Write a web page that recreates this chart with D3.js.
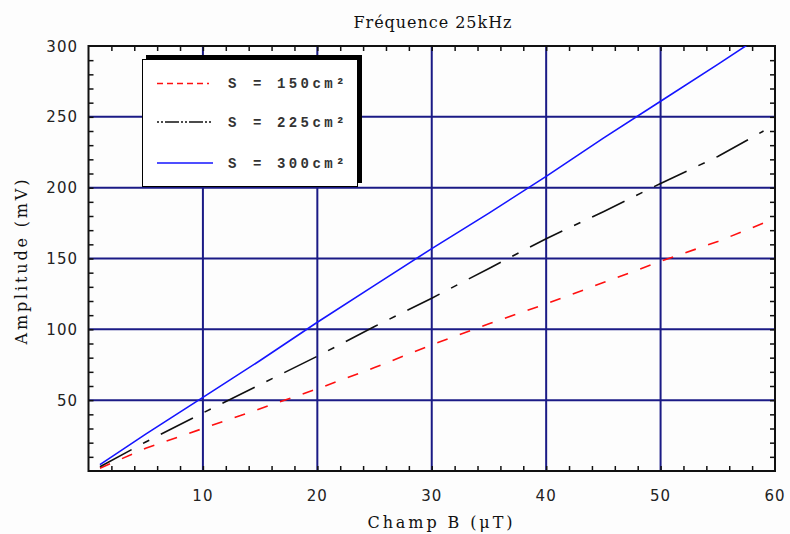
<!DOCTYPE html>
<html><head><meta charset="utf-8">
<script src="https://cdn.jsdelivr.net/npm/d3@7"></script>
<style>
html,body{margin:0;padding:0;background:#fdfdfd;}
svg{display:block;}
</style></head>
<body>
<svg id="chart" width="790" height="534"></svg>
<script>
// ---- data ----
const xValues   = [1, 5, 10, 15, 20, 25, 30, 35, 40, 45, 50, 55, 59];
const s150      = [2, 16, 30, 44, 58, 73, 89, 104, 118, 133, 148, 162, 175];
const s225      = [3, 20.5, 41, 61, 81, 102, 122, 143, 164, 183, 203, 222, 240];
const xValuesS300 = [1, 5, 10, 15, 20, 25, 30, 35, 40, 45, 50, 55, 58];
const s300      = [4.5, 26, 52, 78, 105, 131, 157, 182, 208, 235, 261, 287, 303];
const seriesLabels = ["150cm²", "225cm²", "300cm²"];
const xTickLabels = [10, 20, 30, 40, 50, 60];
const yTickLabels = [50, 100, 150, 200, 250, 300];
const titleText = "Fréquence 25kHz";
const xTitle = "Champ B (μT)";
const yTitle = "Amplitude (mV)";

const svg = d3.select("#chart");
const L = 88.5, R = 775, T = 46, B = 471;
const x = d3.scaleLinear().domain([0, 60]).range([L, R]);
const y = d3.scaleLinear().domain([0, 300]).range([B, T]);
const grid = "#1b1b86";

svg.append("defs").append("clipPath").attr("id","clip")
  .append("rect").attr("x", L).attr("y", T).attr("width", R-L).attr("height", B-T);

// grid lines
svg.append("g").selectAll("line").data(xTickLabels.slice(0,-1)).join("line")
  .attr("x1", d=>x(d)).attr("x2", d=>x(d)).attr("y1", T).attr("y2", B)
  .attr("stroke", grid).attr("stroke-width", 2);
svg.append("g").selectAll("line").data(yTickLabels.slice(0,-1)).join("line")
  .attr("x1", L).attr("x2", R).attr("y1", d=>y(d)).attr("y2", d=>y(d))
  .attr("stroke", grid).attr("stroke-width", 2);

// axes with inward minor ticks
const xMinor = d3.range(2, 60, 2);
const yMinor = d3.range(10, 300, 10);
const tickLen = 5;
const bottomAxis = d3.axisBottom(x).tickValues(xMinor).tickSize(-tickLen).tickFormat("");
const topAxis = d3.axisTop(x).tickValues(xMinor).tickSize(-tickLen).tickFormat("");
const leftAxis = d3.axisLeft(y).tickValues(yMinor).tickSize(-tickLen).tickFormat("");
const rightAxis = d3.axisRight(y).tickValues(yMinor).tickSize(-tickLen).tickFormat("");
function styleAxis(g){ g.select(".domain").remove(); g.selectAll(".tick line").attr("stroke","#111").attr("stroke-width",1.5); }
svg.append("g").attr("transform",`translate(0,${B})`).call(bottomAxis).call(styleAxis);
svg.append("g").attr("transform",`translate(0,${T})`).call(topAxis).call(styleAxis);
svg.append("g").attr("transform",`translate(${L},0)`).call(leftAxis).call(styleAxis);
svg.append("g").attr("transform",`translate(${R},0)`).call(rightAxis).call(styleAxis);

// frame
svg.append("rect").attr("x", L).attr("y", T).attr("width", R-L).attr("height", B-T)
  .attr("fill","none").attr("stroke","#111").attr("stroke-width",2);

// tick labels
svg.append("g").selectAll("text").data(xTickLabels).join("text")
  .attr("x", d=>x(d)).attr("y", 501).attr("text-anchor","middle")
  .attr("font-family","DejaVu Sans").attr("font-size",15).attr("letter-spacing",1)
  .attr("fill","#222").text(d=>d);
svg.append("g").selectAll("text").data(yTickLabels).join("text")
  .attr("x", 78).attr("y", d=>y(d)+5.5).attr("text-anchor","end")
  .attr("font-family","DejaVu Sans").attr("font-size",15).attr("letter-spacing",1)
  .attr("fill","#222").text(d=>d);

// data lines
const line = d3.line().x(d=>x(d[0])).y(d=>y(d[1]));
const plot = svg.append("g").attr("clip-path","url(#clip)");
plot.append("path").datum(d3.zip(xValues, s150)).attr("d", line)
  .attr("fill","none").attr("stroke","#ff1010").attr("stroke-width",1.6).attr("stroke-dasharray","11,13");
plot.append("path").datum(d3.zip(xValues, s225)).attr("d", line)
  .attr("fill","none").attr("stroke","#111").attr("stroke-width",1.6).attr("stroke-dasharray","36,13,7,13");
plot.append("path").datum(d3.zip(xValuesS300, s300)).attr("d", line)
  .attr("fill","none").attr("stroke","#1515ff").attr("stroke-width",1.6);

// legend
const lg = svg.append("g");
lg.append("rect").attr("x",146).attr("y",55).attr("width",216).attr("height",128).attr("fill","#000");
lg.append("rect").attr("x",142.5).attr("y",59.5).attr("width",215).attr("height",127)
  .attr("fill","#fff").attr("stroke","#000").attr("stroke-width",1);
const legendRows = [
  {label: seriesLabels[0], color:"#ff1010", dash:"6,4", ly:83.5, by:88, x2:209},
  {label: seriesLabels[1], color:"#111", dash:"2,2,2,2,14,2", ly:122, by:127, x2:213},
  {label: seriesLabels[2], color:"#1515ff", dash:null, ly:163, by:168, x2:213}
];
legendRows.forEach(r=>{
  lg.append("line").attr("x1",157).attr("x2",r.x2).attr("y1",r.ly).attr("y2",r.ly)
    .attr("stroke",r.color).attr("stroke-width",1.6).attr("stroke-dasharray",r.dash);
  const t = {"font-family":"Liberation Mono","font-size":14,"font-weight":"bold","fill":"#333"};
  const a = lg.append("text").attr("x",228).attr("y",r.by).text("S");
  const b = lg.append("text").attr("x",253).attr("y",r.by).text("=");
  const c = lg.append("text").attr("x",277).attr("y",r.by).attr("letter-spacing",3.4).text(r.label);
  [a,b,c].forEach(e=>Object.entries(t).forEach(([k,v])=>e.attr(k,v)));
});

// titles
svg.append("text").attr("x",432.5).attr("y",28).attr("text-anchor","middle")
  .attr("font-family","DejaVu Serif").attr("font-size",16)
  .attr("textLength",158).attr("lengthAdjust","spacing").attr("fill","#111").text(titleText);
svg.append("text").attr("x",440).attr("y",528).attr("text-anchor","middle")
  .attr("font-family","DejaVu Serif").attr("font-size",16)
  .attr("textLength",145).attr("lengthAdjust","spacing").attr("fill","#111").text(xTitle);
svg.append("text").attr("transform","translate(27,262) rotate(-90)").attr("text-anchor","middle")
  .attr("font-family","DejaVu Serif").attr("font-size",16)
  .attr("textLength",165).attr("lengthAdjust","spacing").attr("fill","#111").text(yTitle);
</script>
</body></html>
